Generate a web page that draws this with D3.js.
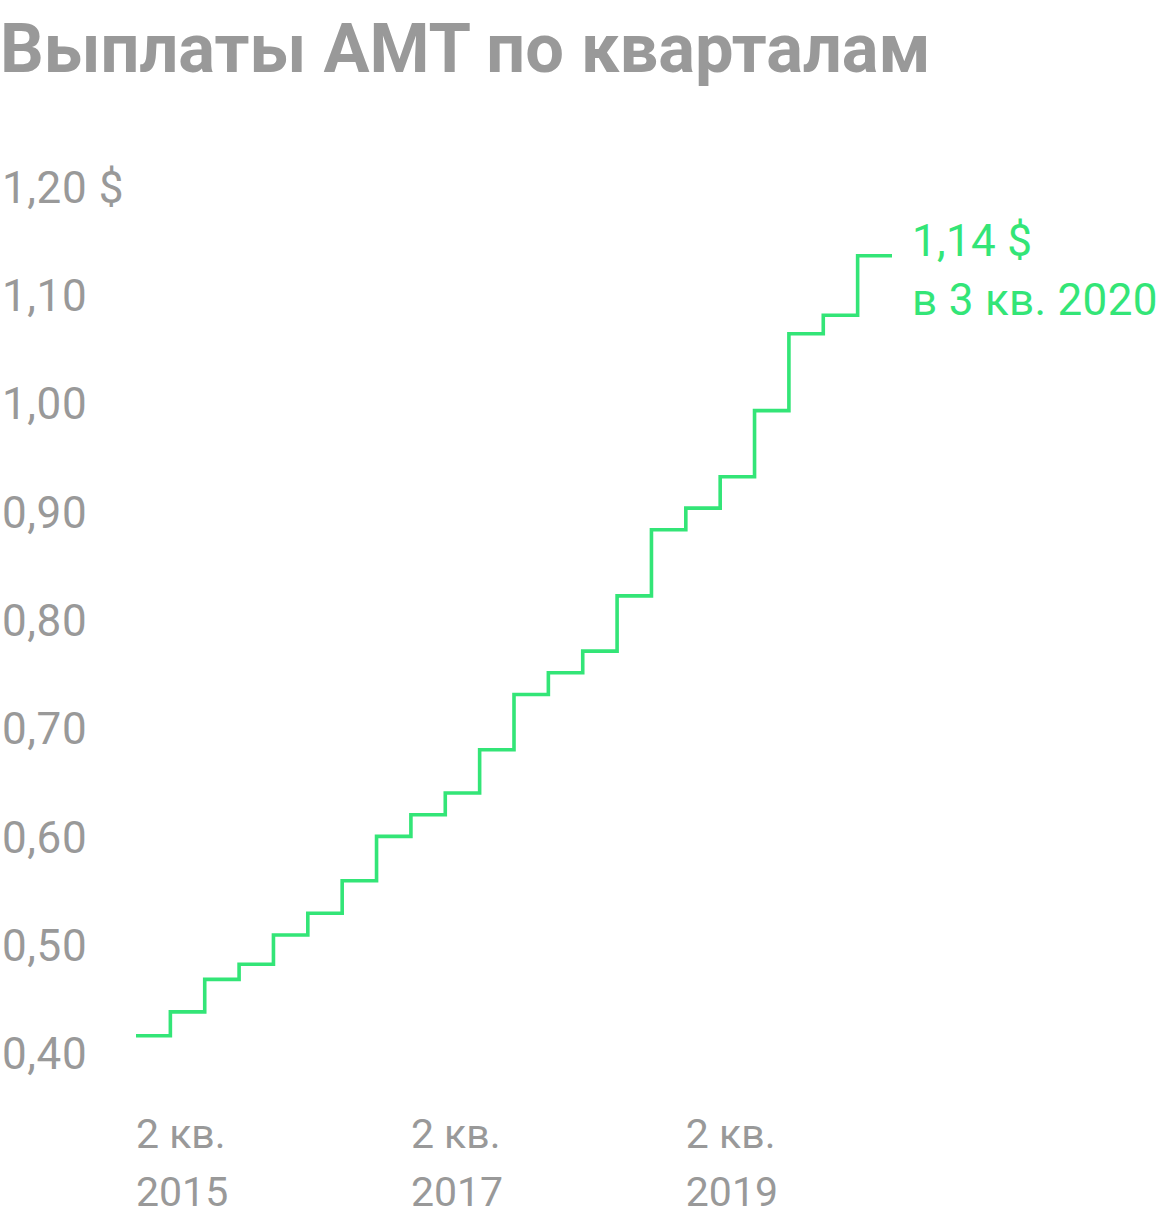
<!DOCTYPE html>
<html>
<head>
<meta charset="utf-8">
<script src="https://cdn.jsdelivr.net/npm/d3@7"></script>
<style>
  html, body { margin: 0; padding: 0; background: #fff; }
  svg { display: block; }
  text { font-family: Roboto, "Noto Sans", sans-serif; }
</style>
</head>
<body>
<script>
// ---- data ----
const title = "Выплаты AMT по кварталам";
const quarters = [
  "2 кв. 2015","3 кв. 2015","4 кв. 2015",
  "1 кв. 2016","2 кв. 2016","3 кв. 2016","4 кв. 2016",
  "1 кв. 2017","2 кв. 2017","3 кв. 2017","4 кв. 2017",
  "1 кв. 2018","2 кв. 2018","3 кв. 2018","4 кв. 2018",
  "1 кв. 2019","2 кв. 2019","3 кв. 2019","4 кв. 2019",
  "1 кв. 2020","2 кв. 2020","3 кв. 2020"
];
const payouts = [
  0.42, 0.442, 0.472,
  0.486, 0.513, 0.533, 0.563,
  0.604, 0.624, 0.644, 0.684,
  0.735, 0.755, 0.775, 0.826,
  0.887, 0.907, 0.936, 0.997,
  1.068, 1.085, 1.14
];
const yTicks = [0.40, 0.50, 0.60, 0.70, 0.80, 0.90, 1.00, 1.10, 1.20];
const xTickIdx = [0, 8, 16];
const xTickLines = [["2 кв.", "2015"], ["2 кв.", "2017"], ["2 кв.", "2019"]];
const annotation = ["1,14 $", "в 3 кв. 2020"];

// ---- drawing ----
const W = 1160, H = 1224;
const green = "#33e577", gray = "#999999";

const svg = d3.select("body").append("svg")
  .attr("width", W).attr("height", H);

svg.append("text")
  .attr("x", 0).attr("y", 72)
  .attr("font-size", 68.6).attr("font-weight", 700)
  .attr("fill", gray)
  .text(title);

const x = d3.scaleLinear().domain([0, quarters.length]).range([136, 892]);
const y = d3.scaleLinear().domain([0.40, 1.20]).range([1057.4, 190.7]);

const fmt = v => d3.format(".2f")(v).replace(".", ",");

// y labels
svg.append("g").selectAll("text").data(yTicks).join("text")
  .attr("x", 2)
  .attr("y", d => y(d) + 12)
  .attr("font-size", 44)
  .attr("letter-spacing", 0.6)
  .attr("fill", gray)
  .text((d, i) => fmt(d) + (i === yTicks.length - 1 ? " $" : ""));

// x labels
const xg = svg.append("g").selectAll("text").data(xTickIdx).join("text")
  .attr("x", d => x(d))
  .attr("font-size", 41)
  .attr("fill", gray);
xg.append("tspan").attr("x", d => x(d)).attr("y", 1148).text((d, i) => xTickLines[i][0]);
xg.append("tspan").attr("x", d => x(d)).attr("y", 1206).text((d, i) => xTickLines[i][1]);

// step line
const pts = payouts.map((v, i) => [i, v]);
pts.push([payouts.length, payouts[payouts.length - 1]]);
const line = d3.line()
  .x(d => x(d[0]))
  .y(d => y(d[1]))
  .curve(d3.curveStepAfter);
svg.append("path")
  .datum(pts)
  .attr("d", line)
  .attr("fill", "none")
  .attr("stroke", green)
  .attr("stroke-width", 3.6)
  .attr("stroke-linejoin", "miter")
  .attr("stroke-linecap", "butt");

// annotation
const last = payouts.length - 1;
const ann = svg.append("text")
  .attr("font-size", 44)
  .attr("letter-spacing", 0.3)
  .attr("fill", green);
ann.append("tspan").attr("x", 912).attr("y", y(payouts[last]) + 0.5).text(annotation[0]);
ann.append("tspan").attr("x", 912).attr("y", y(payouts[last]) + 59.5).text(annotation[1]);
</script>
</body>
</html>
